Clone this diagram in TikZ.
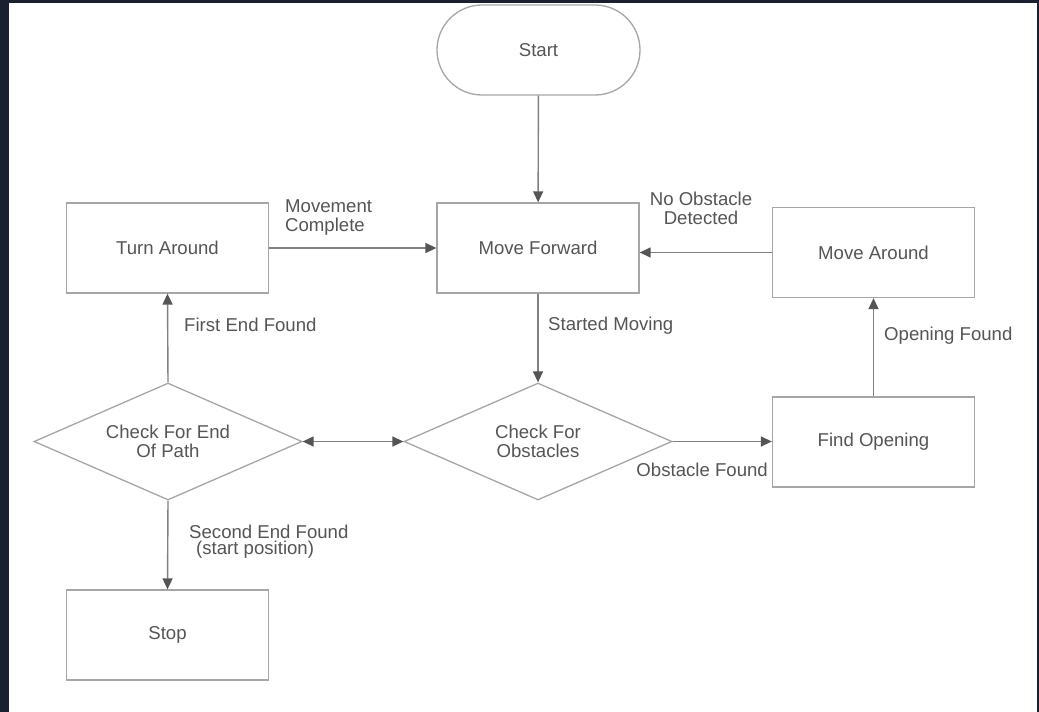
\documentclass[tikz,border=0pt]{standalone}
\usepackage{fontspec}
\setmainfont{Liberation Sans}
\usetikzlibrary{shapes.geometric,shapes.misc,arrows.meta}
\definecolor{frame}{HTML}{1A2030}
\definecolor{boxline}{HTML}{A6A6A6}
\definecolor{conn}{HTML}{808080}
\definecolor{tip}{HTML}{555555}
\definecolor{txt}{HTML}{555555}
\tikzset{
  every node/.style={font=\fontsize{18.6}{19.5}\selectfont, text=txt},
  procbox/.style={draw=boxline, line width=1.3pt, rectangle, minimum width=202pt, minimum height=90pt, inner sep=0pt},
  termbox/.style={draw=boxline, line width=1.3pt, rounded rectangle, minimum width=203pt, minimum height=90pt, inner sep=0pt},
  decbox/.style={draw=boxline, line width=1.3pt, diamond, aspect=2.29, minimum width=268pt, minimum height=117pt, inner sep=0pt, align=center},
  conn/.style={draw=conn, line width=1.4pt, -{Triangle[length=11pt,width=10pt,color=tip]}},
  biconn/.style={draw=conn, line width=1.4pt, {Triangle[length=11pt,width=10pt,color=tip]}-{Triangle[length=11pt,width=10pt,color=tip]}},
  lbl/.style={inner sep=0pt}
}
\begin{document}
\begin{tikzpicture}[x=1pt,y=-1pt]
\useasboundingbox (0,0) rectangle (1039,712);
\fill[frame] (0,0) rectangle (1039,712);
\fill[white] (9,3) rectangle (1037,712);

\node[termbox] (start) at (538.5,50) {Start};
\node[procbox] (fwd) at (538,248) {Move Forward};
\node[procbox] (turn) at (167.5,248) {Turn Around};
\node[procbox] (around) at (873.5,252.5) {Move Around};
\node[decbox] (endp) at (168,441.5) {Check For End\\Of Path};
\node[decbox] (obst) at (538,441.5) {Check For\\Obstacles};
\node[procbox] (open) at (873.5,442) {Find Opening};
\node[procbox] (stop) at (167.5,635) {Stop};

\draw[conn] (start) -- (fwd);
\draw[conn] (turn) -- (fwd);
\draw[conn] (around.west) -- (around.west -| fwd.east);
\draw[conn] (fwd) -- (obst);
\draw[conn] (obst.east) -- (open.west |- obst.east);
\draw[conn] (open) -- (around);
\draw[biconn] (endp.east) -- (obst.west);
\draw[conn] (endp.north) -- (turn.south);
\draw[conn] (endp.south) -- (stop.north);

\node[lbl, anchor=west, align=left] (l1) at (285,217.5) {Movement\\Complete};
\node[lbl, align=center] (l2) at (701,208.5) {No Obstacle\\Detected};
\node[lbl, anchor=west] (l3) at (548,326) {Started Moving};
\node[lbl, anchor=east] (l4) at (768,470) {Obstacle Found};
\node[lbl, anchor=west] (l5) at (884,336) {Opening Found};
\node[lbl, anchor=west] (l6) at (184,325) {First End Found};
\node[lbl, anchor=west, align=left] (l7) at (189,541.5) {Second End Found\\[-3pt]\hspace*{7pt}(start position)};
\end{tikzpicture}
\end{document}
